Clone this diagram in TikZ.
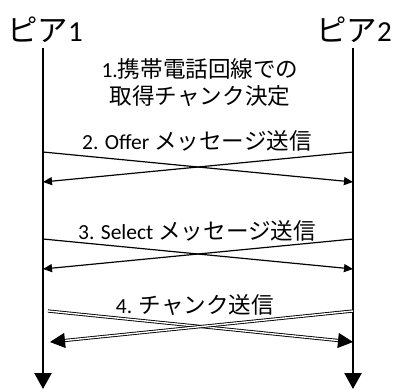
\documentclass[tikz,border=0pt]{standalone}
\usepackage{fontspec}
\setmainfont{Carlito}
\newfontfamily\jp[Scale=1.05]{Noto Sans CJK JP}
\usetikzlibrary{arrows.meta}
\begin{document}
\begin{tikzpicture}[x=1pt,y=-1pt,
  lifeline/.style={line width=2.6pt,-{Triangle[length=16pt,width=17pt]}},
  msg/.style={line width=1.2pt,-{Triangle[length=9pt,width=8pt]}},
  dmsg/.style={double,line width=0.9pt,double distance=1.4pt,-{Triangle[length=15pt,width=15pt]}},
  peer/.style={font=\fontsize{29}{32}\selectfont},
  lbl/.style={font=\fontsize{21.5}{27}\selectfont,align=center}]
\useasboundingbox (0,0) rectangle (393,389);
\node[peer] (p1) at (45,30) {{\jp ピア}1};
\node[peer] (p2) at (354,30) {{\jp ピア}2};
\coordinate (a1) at (43,48);
\coordinate (b1) at (43,389);
\coordinate (a2) at (353,48);
\coordinate (b2) at (353,389);
\draw[lifeline] (a1) -- (b1);
\draw[lifeline] (a2) -- (b2);
\node[lbl] (t1) at (200,83) {1.{\jp 携帯電話回線での}\\{\jp 取得チャンク決定}};
\node[lbl] (t2) at (197,141) {2. Offer {\jp メッセージ送信}};
\node[lbl] (t3) at (197,231) {3. Select {\jp メッセージ送信}};
\node[lbl] (t4) at (195,305) {4. {\jp チャンク送信}};
\coordinate (m2l) at (43,152);
\coordinate (m2r) at (353,152);
\coordinate (n2l) at (43,182);
\coordinate (n2r) at (353,182);
\draw[msg] (m2l) -- (n2r);
\draw[msg] (m2r) -- (n2l);
\coordinate (m3l) at (43,239);
\coordinate (m3r) at (353,239);
\coordinate (n3l) at (43,269);
\coordinate (n3r) at (353,269);
\draw[msg] (m3l) -- (n3r);
\draw[msg] (m3r) -- (n3l);
\coordinate (m4l) at (48,311);
\coordinate (m4r) at (353,311);
\coordinate (n4l) at (50,342);
\coordinate (n4r) at (353,342);
\draw[dmsg] (m4l) -- (n4r);
\draw[dmsg] (m4r) -- (n4l);
\end{tikzpicture}
\end{document}
